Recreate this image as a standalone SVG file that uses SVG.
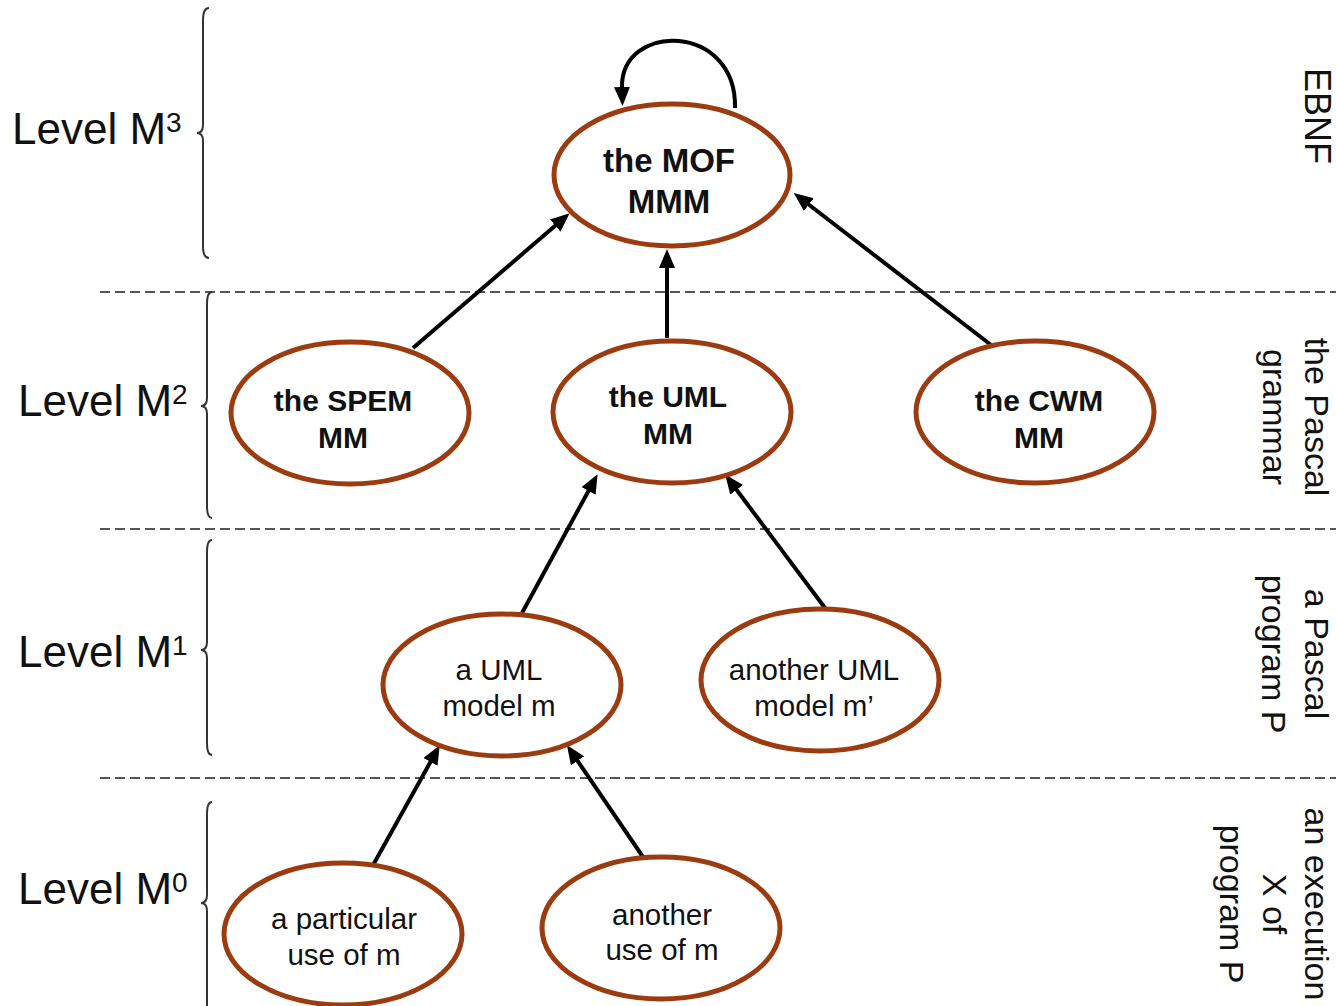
<svg xmlns="http://www.w3.org/2000/svg" width="1336" height="1006" viewBox="0 0 1336 1006">
  <style>
    .node ellipse { fill: #ffffff; stroke: #9c3b10; stroke-width: 5; }
    .lbl { font-family: "Liberation Sans", Arial, sans-serif; font-size: 29.5px; fill: #111; text-anchor: middle; }
    .bold { font-weight: bold; font-size: 30px; }
    .big { font-size: 33px; }
    .level { font-family: "Liberation Sans", Arial, sans-serif; font-size: 44px; fill: #111; }
    .sup { font-size: 28px; }
    .side { font-family: "Liberation Sans", Arial, sans-serif; font-size: 34px; fill: #111; text-anchor: middle; }
    .side-title { font-size: 36px; }
    .sep { stroke: #555; stroke-width: 2; stroke-dasharray: 10 5; fill: none; }
    .brace { stroke: #333; stroke-width: 2; fill: none; }
    .edge { stroke: #000; stroke-width: 4; fill: none; marker-end: url(#head); }
  </style>
  <defs>
    <marker id="head" markerUnits="userSpaceOnUse" markerWidth="20" markerHeight="16" refX="1" refY="8" orient="auto">
      <path d="M0,0 L19,8 L0,16 z" fill="#000"/>
    </marker>
  </defs>

  <rect width="1336" height="1006" fill="#ffffff"/>

  <!-- level separators -->
  <g id="separators">
    <line class="sep" x1="100" y1="292" x2="1336" y2="292"/>
    <line class="sep" x1="100" y1="529" x2="1336" y2="529"/>
    <line class="sep" x1="100" y1="778" x2="1336" y2="778"/>
  </g>

  <!-- level braces -->
  <g id="braces">
    <path class="brace" d="M209,8 Q203,8 203,20 L203,125 Q203,133 197,133 Q203,133 203,141 L203,246 Q203,258 209,258"/>
    <path class="brace" d="M212,292 Q207,292 207,304 L207,398 Q207,406 201,406 Q207,406 207,414 L207,506 Q207,518 212,518"/>
    <path class="brace" d="M212,540 Q207,540 207,552 L207,642 Q207,650 201,650 Q207,650 207,658 L207,743 Q207,755 212,755"/>
    <path class="brace" d="M212,802 Q207,802 207,814 L207,895 Q207,903 201,903 Q207,903 207,911 L207,1006"/>
  </g>

  <!-- level labels -->
  <g id="level-labels">
    <text class="level" x="12" y="144">Level M<tspan class="sup" dy="-12">3</tspan></text>
    <text class="level" x="18" y="416">Level M<tspan class="sup" dy="-12">2</tspan></text>
    <text class="level" x="18" y="667">Level M<tspan class="sup" dy="-12">1</tspan></text>
    <text class="level" x="18" y="904">Level M<tspan class="sup" dy="-12">0</tspan></text>
  </g>

  <!-- side annotations, read top to bottom -->
  <g id="side-labels">
    <g transform="translate(1305,116) rotate(90)">
      <text class="side side-title" x="0" y="0">EBNF</text>
    </g>
    <g transform="translate(1305,417) rotate(90)">
      <text class="side" x="0" y="0">the Pascal</text>
      <text class="side" x="0" y="42">grammar</text>
    </g>
    <g transform="translate(1305,654) rotate(90)">
      <text class="side" x="0" y="0">a Pascal</text>
      <text class="side" x="0" y="43">program P</text>
    </g>
    <g transform="translate(1305,904) rotate(90)">
      <text class="side" x="0" y="0">an execution</text>
      <text class="side" x="0" y="42">X of</text>
      <text class="side" x="0" y="85">program P</text>
    </g>
  </g>

  <!-- connectors -->
  <g id="edges">
    <path class="edge" d="M735,108 C737,22 620,22 622,88"/>
    <line class="edge" x1="413" y1="348" x2="556" y2="225"/>
    <line class="edge" x1="667" y1="338" x2="667" y2="267"/>
    <line class="edge" x1="995" y1="348" x2="808" y2="204"/>
    <line class="edge" x1="522" y1="613" x2="589" y2="490"/>
    <line class="edge" x1="825" y1="608" x2="736" y2="489"/>
    <line class="edge" x1="372" y1="867" x2="431" y2="761"/>
    <line class="edge" x1="643" y1="857" x2="577" y2="760"/>
  </g>

  <!-- nodes -->
  <g id="node-mof" class="node">
    <ellipse cx="672" cy="175" rx="118" ry="71"/>
    <text class="lbl bold big" x="669" y="172">the MOF</text>
    <text class="lbl bold big" x="669" y="213">MMM</text>
  </g>
  <g id="node-spem" class="node">
    <ellipse cx="350" cy="413" rx="119" ry="71"/>
    <text class="lbl bold" x="343" y="411">the SPEM</text>
    <text class="lbl bold" x="343" y="448">MM</text>
  </g>
  <g id="node-uml" class="node">
    <ellipse cx="672" cy="412" rx="119" ry="71"/>
    <text class="lbl bold" x="668" y="407">the UML</text>
    <text class="lbl bold" x="668" y="444">MM</text>
  </g>
  <g id="node-cwm" class="node">
    <ellipse cx="1035" cy="412" rx="119" ry="71"/>
    <text class="lbl bold" x="1039" y="411">the CWM</text>
    <text class="lbl bold" x="1039" y="448">MM</text>
  </g>
  <g id="node-model-m" class="node">
    <ellipse cx="502" cy="685" rx="119" ry="71"/>
    <text class="lbl" x="499" y="680">a UML</text>
    <text class="lbl" x="499" y="716">model m</text>
  </g>
  <g id="node-model-m2" class="node">
    <ellipse cx="820" cy="680" rx="119" ry="71"/>
    <text class="lbl" x="814" y="680">another UML</text>
    <text class="lbl" x="814" y="716">model m’</text>
  </g>
  <g id="node-use-1" class="node">
    <ellipse cx="343" cy="934" rx="119" ry="71"/>
    <text class="lbl" x="344" y="929">a particular</text>
    <text class="lbl" x="344" y="965">use of m</text>
  </g>
  <g id="node-use-2" class="node">
    <ellipse cx="661" cy="928" rx="119" ry="71"/>
    <text class="lbl" x="662" y="925">another</text>
    <text class="lbl" x="662" y="960">use of m</text>
  </g>
</svg>
